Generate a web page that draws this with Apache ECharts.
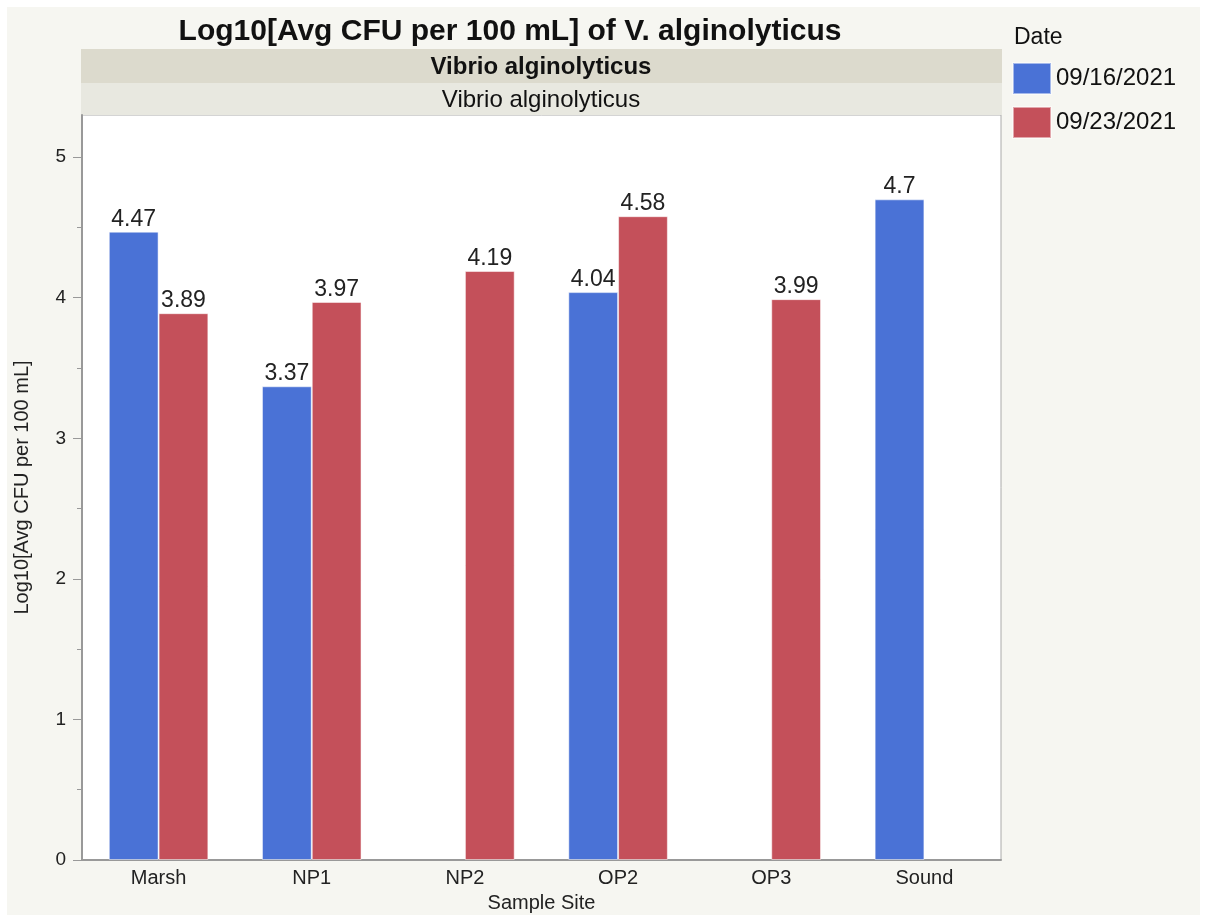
<!DOCTYPE html>
<html>
<head>
    <meta charset="utf-8" />
    <title>Log10 Avg CFU</title>
    <style>
        html, body { margin: 0; padding: 0; background: #fff; }
        #charts { position: absolute; left: 7px; top: 7px; width: 1193px; height: 908px; }
    </style>
</head>
<body>
    <div id="charts"></div>
    <script src="https://cdn.jsdelivr.net/npm/echarts@6/dist/echarts.min.js"></script>
    <script type="text/javascript">
        // 数据
        var sites = ['Marsh', 'NP1', 'NP2', 'OP2', 'OP3', 'Sound'];
        var dates = ['09/16/2021', '09/23/2021'];
        var sep16 = [4.47, 3.37, '-', 4.04, '-', 4.7];
        var sep23 = [3.89, 3.97, 4.19, 4.58, 3.99, '-'];
        var yTicks = [0, 1, 2, 3, 4, 5];

        var font = 'Liberation Sans, Arial, sans-serif';
        var myChart = echarts.init(document.getElementById('charts'));

        function barSeries(name, data, color) {
            return {
                name: name,
                type: 'bar',
                data: data,
                barGap: 0,
                barCategoryGap: '35%',
                itemStyle: { color: color, borderColor: 'rgba(255,255,255,0.5)', borderWidth: 1 },
                label: {
                    show: true,
                    position: 'top',
                    distance: 1,
                    color: '#222',
                    fontSize: 23,
                    fontFamily: font
                }
            };
        }

        // 图表配置
        option = {
            backgroundColor: '#f6f6f1',
            animation: false,
            title: {
                text: 'Log10[Avg CFU per 100 mL] of V. alginolyticus',
                left: 498,
                top: 5,
                textAlign: 'center',
                textStyle: { fontSize: 30, fontWeight: 'bold', color: '#111', fontFamily: font }
            },
            graphic: [
                {
                    type: 'rect', left: 74, top: 42,
                    shape: { width: 921, height: 34 },
                    style: { fill: '#dcdacd' }
                },
                {
                    type: 'text', x: 534, y: 60,
                    style: { text: 'Vibrio alginolyticus', align: 'center', verticalAlign: 'middle', fill: '#111', font: 'bold 24px ' + font }
                },
                {
                    type: 'rect', left: 74, top: 76,
                    shape: { width: 921, height: 32 },
                    style: { fill: '#e8e8e0' }
                },
                {
                    type: 'text', x: 534, y: 93,
                    style: { text: 'Vibrio alginolyticus', align: 'center', verticalAlign: 'middle', fill: '#111', font: '24px ' + font }
                },
                {
                    type: 'text', x: 1007, y: 31,
                    style: { text: 'Date', verticalAlign: 'middle', fill: '#111', font: '23px ' + font }
                }
            ],
            legend: {
                orient: 'vertical',
                left: 1005,
                top: 55,
                padding: 0,
                itemWidth: 38,
                itemHeight: 31,
                itemGap: 11,
                icon: 'rect',
                textStyle: { fontSize: 24, color: '#111', fontFamily: font },
                data: dates
            },
            grid: {
                left: 75,
                right: 199,
                top: 108,
                bottom: 55,
                outerBoundsMode: 'none',
                show: true,
                backgroundColor: '#fff',
                borderColor: '#aaa',
                borderWidth: 1
            },
            xAxis: [
                {
                    type: 'category',
                    data: sites,
                    name: 'Sample Site',
                    nameLocation: 'middle',
                    nameGap: 33,
                    nameTextStyle: { fontSize: 20, color: '#222', fontFamily: font },
                    axisLine: { lineStyle: { color: '#999', width: 2 } },
                    axisTick: { show: false },
                    axisLabel: { fontSize: 20, color: '#222', margin: 8, fontFamily: font }
                }
            ],
            yAxis: [
                {
                    type: 'value',
                    min: 0,
                    max: 5.3,
                    interval: 1,
                    name: 'Log10[Avg CFU per 100 mL]',
                    nameLocation: 'middle',
                    nameGap: 50,
                    nameTextStyle: { fontSize: 20, color: '#222', fontFamily: font },
                    axisLine: { show: true, lineStyle: { color: '#999', width: 2 } },
                    axisTick: { show: true, length: 9, customValues: yTicks, lineStyle: { color: '#999' } },
                    minorTick: { show: true, splitNumber: 2, length: 5, lineStyle: { color: '#999' } },
                    splitLine: { show: false },
                    axisLabel: { fontSize: 19, color: '#222', margin: 16, fontFamily: font, customValues: yTicks }
                }
            ],
            series: [
                barSeries(dates[0], sep16, '#4a72d6'),
                barSeries(dates[1], sep23, '#c4505a')
            ]
        };
        myChart.setOption(option);
    </script>
</body>
</html>
